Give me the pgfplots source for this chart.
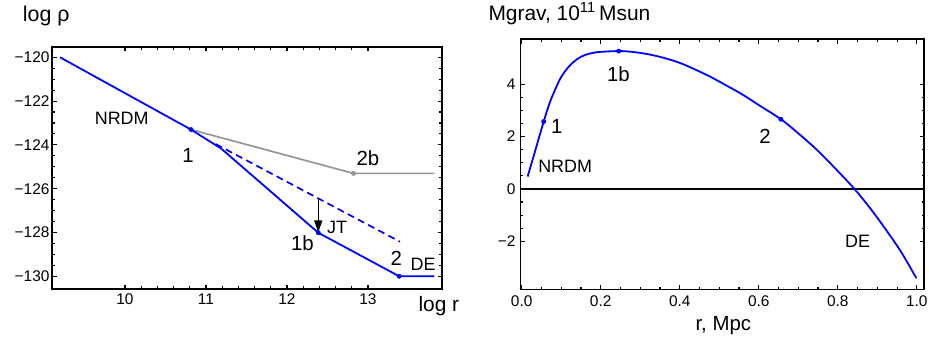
\documentclass[border=0pt]{standalone}
\usepackage{fontspec}
\setmainfont{Liberation Sans}
\usepackage{pgfplots}
\pgfplotsset{compat=1.18}
\usetikzlibrary{arrows.meta}
\definecolor{mblue}{RGB}{0,0,255}
\definecolor{mgray}{RGB}{150,150,150}
\newcommand{\tickfont}{\fontsize{15.5}{16}\selectfont}
\newcommand{\bigfont}{\fontsize{20.5}{21}\selectfont}
\newcommand{\midfont}{\fontsize{18}{18}\selectfont}
\pgfplotsset{
  every tick label/.append style={font=\tickfont},
  mframe/.style={
    scale only axis, anchor=south west, clip=false,
    tick align=inside,
    axis line style={line width=1.8bp},
    every tick/.style={black, line width=1.1bp},
    major tick length=4.5bp, minor tick length=2.6bp,
  }
}
\begin{document}
\begin{tikzpicture}[x=1bp,y=1bp]
\useasboundingbox (0,0) rectangle (929,339);
% ---------- left panel ----------
\begin{axis}[mframe,
  at={(52bp,50bp)}, width=390bp, height=242bp,
  xmin=9.099, xmax=13.914, ymin=-130.58, ymax=-119.53,
  xtick={10,11,12,13}, xticklabels={10,11,12,13},
  ytick={-130,-128,-126,-124,-122,-120},
  yticklabels={−130,−128,−126,−124,−122,−120},
  minor x tick num=4, minor y tick num=3,
  tick label style={font=\tickfont},
  xticklabel style={font=\tickfont, yshift=-1.5bp},
  yticklabel style={font=\tickfont, xshift=1bp},
]
\addplot[mgray, line width=1.7bp] coordinates {(10.815,-123.30) (12.82,-125.30) (13.82,-125.30)};
\addplot[mblue, line width=1.7bp, dash pattern=on 7bp off 4.5bp] coordinates {(11.12,-123.96) (13.395,-128.42)};
\addplot[mblue, line width=1.8bp] coordinates {(9.198,-120.0) (10.815,-123.30) (11.185,-124.16) (12.386,-128.01) (13.386,-130.0) (13.82,-130.0)};
\addplot[only marks, mark=*, mark size=2.2bp, mgray] coordinates {(12.82,-125.30)};
\addplot[only marks, mark=*, mark size=2.2bp, mblue] coordinates {(10.815,-123.30) (12.386,-128.01) (13.386,-130.0)};
\addplot[black, line width=1.2bp, -{Triangle[length=12bp,width=8bp]}] coordinates {(12.386,-126.46) (12.386,-128.0)};
\node[font=\midfont] at (axis cs:9.96,-122.8) {NRDM};
\node[font=\bigfont] at (axis cs:10.78,-124.47) {1};
\node[font=\bigfont] at (axis cs:13.0,-124.6) {2b};
\node[font=\midfont] at (axis cs:12.62,-127.75) {JT};
\node[font=\bigfont] at (axis cs:12.19,-128.5) {1b};
\node[font=\bigfont] at (axis cs:13.35,-129.2) {2};
\node[font=\midfont] at (axis cs:13.68,-129.45) {DE};
\end{axis}
\node[anchor=base west, font=\fontsize{21.5}{22}\selectfont, inner sep=0] at (22.7,317.5) {log ρ};
\node[anchor=base west, font=\fontsize{21}{22}\selectfont, inner sep=0] at (418.3,27.5) {log r};
% ---------- right panel ----------
\begin{axis}[mframe,
  at={(520.5bp,49.5bp)}, width=403.8bp, height=250.2bp,
  xmin=-0.003, xmax=1.019, ymin=-3.84, ymax=5.71,
  xtick={0,0.2,0.4,0.6,0.8,1.0}, xticklabels={0.0,0.2,0.4,0.6,0.8,1.0},
  ytick={-2,0,2,4}, yticklabels={−2,0,2,4},
  minor x tick num=3, minor y tick num=3,
  xticklabel style={font=\tickfont, yshift=-2.5bp},
  yticklabel style={font=\tickfont, xshift=-1.5bp},
]
\addplot[black, line width=1.3bp] coordinates {(-0.003,0) (1.019,0)};
\addplot[mblue, line width=1.8bp, smooth, tension=0.6] coordinates {
 (0.015,0.47) (0.030,1.24) (0.0557,2.57) (0.070,3.25) (0.085,3.80) (0.100,4.27)
 (0.120,4.68) (0.140,4.95) (0.160,5.11) (0.180,5.19) (0.200,5.23) (0.2455,5.26)
 (0.280,5.23) (0.320,5.14) (0.360,5.00) (0.400,4.81) (0.440,4.55) (0.480,4.26)
 (0.520,3.93) (0.560,3.59) (0.600,3.20) (0.656,2.66) (0.700,2.12) (0.750,1.45)
 (0.800,0.68) (0.842,0.0) (0.880,-0.70) (0.920,-1.52) (0.960,-2.40) (0.999,-3.41)};
\addplot[only marks, mark=*, mark size=2.2bp, mblue] coordinates {(0.0557,2.57) (0.2455,5.26) (0.656,2.66)};
\node[font=\bigfont] at (axis cs:0.089,2.38) {1};
\node[font=\bigfont] at (axis cs:0.245,4.39) {1b};
\node[font=\bigfont] at (axis cs:0.616,2.0) {2};
\node[font=\midfont] at (axis cs:0.11,0.85) {NRDM};
\node[font=\midfont] at (axis cs:0.85,-2.01) {DE};
\end{axis}
\node[anchor=base west, font=\fontsize{21}{22}\selectfont, inner sep=0] at (488.3,319) {Mgrav, 10\textsuperscript{11}\,Msun};
\node[anchor=base, font=\fontsize{20.5}{21}\selectfont, inner sep=0] at (723.3,8.3) {r, Mpc};
\end{tikzpicture}
\end{document}
